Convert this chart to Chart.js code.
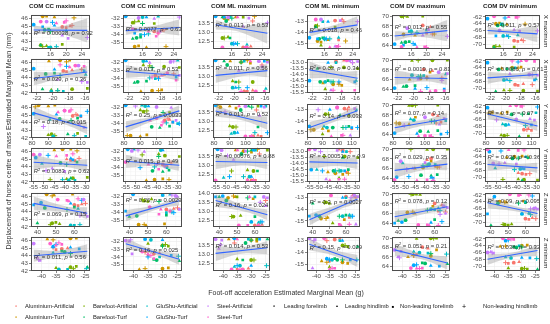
<!DOCTYPE html>
<html>
<head>
<meta charset="utf-8">
<script src="https://cdn.jsdelivr.net/npm/chart.js@4.4.0/dist/chart.umd.min.js"></script>
<style>
  body { margin: 0; background: #fff; width: 550px; height: 324px; overflow: hidden; position: relative;
         font-family: "Liberation Sans", Arial, sans-serif; }
  .abs { position: absolute; white-space: nowrap; color: #1a1a1a; }
  canvas { position: absolute; }
</style>
</head>
<body>
<script>
// categories
const groups = ['Aluminium-Artificial', 'Aluminium-Turf', 'Barefoot-Artificial', 'Barefoot-Turf',
  'GluShu-Artificial', 'GluShu-Turf', 'Steel-Artificial', 'Steel-Turf'];
const limbs = ['Leading forelimb', 'Leading hindlimb', 'Non-leading forelimb', 'Non-leading hindlimb'];
const columnTitles = ['COM CC maximum', 'COM CC minimum', 'COM ML maximum', 'COM ML minimum', 'COM DV maximum', 'COM DV minimum'];
const rowLabels = ['X maximum', 'X minimum', 'Y maximum', 'Y minimum', 'Z maximum', 'Z minimum'];

// one entry per observation (group, limb)
const obsGroup = [0,0,0,0, 1,1,1,1, 2,2,2,2, 3,3,3,3, 4,4,4,4, 5,5,5,5, 6,6,6,6, 7,7,7,7];
const obsLimb  = [0,1,2,3, 0,1,2,3, 0,1,2,3, 0,1,2,3, 0,1,2,3, 0,1,2,3, 0,1,2,3, 0,1,2,3];

// foot-off acceleration (g), one array per row
const accXMax = [19,21,20,21.5, 14,17,15,22, 13.5,15,19,14, 14.5,13.5,15.5,16, 16,20,15.5,17.5, 11.7,17,14,16.5, 15,19,20.5,25.4, 13.5,17.5,19.5,20];
const accXMin = [-18.7,-17.6,-18.3,-16.4, -19.1,-20.5,-17.9,-18.3, -17.6,-20.2,-15.7,-19.4, -20.9,-21.3,-19.8,-19.1, -20.2,-15.9,-18.7,-19.4, -22.4,-19.8,-16.1,-18.3, -16.8,-19.4,-15.7,-16.4, -17.2,-17.9,-16.1,-19.1];
const accYMax = [105,108,110,107, 84,90,94,82, 92,90,108,94, 97,102,108,104, 93,91,113,106, 81,95,110,114, 100,109,112,87, 100,96,103,104];
const accYMin = [-36.9,-38.9,-34.9,-32.9, -40.9,-44.9,-36.9,-33.9, -35.9,-38.9,-28.9,-46.9, -41.9,-36.9,-33.9,-38.9, -37.9,-50.9,-34.9,-40.9, -53.9,-36.9,-35.9,-47.9, -51.9,-45.9,-39.9,-48.9, -54.9,-43.9,-38.9,-35.9];
const accZMax = [60,64,62,66, 45,49,59,48, 48,52,50,47, 44,40,60,56, 58,62,60,63, 42,58,38,64, 65,66,67,63, 51,57,56,62];
const accZMin = [-33,-31,-35,-36, -30,-38,-28,-36, -30,-35,-28,-29, -32,-24.2,-33,-30, -34,-36,-31,-24.5, -36,-30,-27,-35, -42.7,-41.5,-40.5,-41, -37,-35,-33,-34];

// COM displacement (mm), one array per column
const comCCMax = [44.9,45.0,44.8,45.1, 46.3,46.2,46.3,46.1, 42.5,42.4,42.6,42.3, 44.5,42.5,44.6,44.3, 42.2,44.4,42.2,42.3, 45.2,45.1,44.9,45.5, 45.6,43.8,43.4,43.5, 45.6,45.4,45.5,45.7];
const comCCMin = [-33.6,-33.5,-33.8,-33.4, -35.5,-35.6,-35.4,-35.5, -32.5,-32.3,-32.6,-32.4, -34.4,-34.5,-34.3,-32.6, -31.8,-31.7,-34.0,-33.9, -31.7,-31.8,-33.8,-34.0, -31.9,-32.0,-33.6,-31.8, -33.3,-33.6,-34.2,-33.8];
const comMLMax = [12.2,12.25,12.2,13.6, 13.75,13.8,13.7,13.85, 12.7,12.75,13.8,12.7, 13.6,13.8,12.7,13.75, 12.4,12.35,13.8,12.4, 13.85,12.4,13.8,12.4, 13.8,13.3,13.75,13.5, 12.2,13.8,12.2,12.2];
const comMLMin = [-12.9,-12.8,-14.7,-13.0, -14.8,-14.7,-14.9,-14.8, -13.4,-15.2,-13.5,-13.4, -14.6,-13.5,-14.5,-14.6, -14.6,-14.5,-13.0,-14.6, -14.5,-13.0,-14.6,-14.6, -12.8,-15.3,-12.9,-13.0, -12.8,-15.4,-15.3,-15.3];
const comDVMax = [68.1,67.8,66.5,66.3, 66.2,66.0,67.5,66.3, 70.0,69.9,70.0,70.0, 64.6,64.5,64.7,66.7, 66.9,67.1,66.8,66.6, 64.2,64.1,64.0,64.3, 67.5,66.0,67.2,65.8, 63.6,63.5,63.6,63.5];
const comDVMin = [-69.0,-68.8,-69.2,-69.0, -64.0,-64.2,-63.8,-64.1, -70.8,-70.6,-70.9,-70.7, -64.5,-71.0,-64.3,-64.4, -67.6,-67.4,-64.0,-67.8, -62.5,-67.5,-67.6,-62.3, -66.0,-65.8,-66.2,-66.1, -61.8,-62.0,-62.1,-62.0];

// x tick labels per row
const xTicks = [
  [16, 20, 24],
  [-22, -20, -18, -16],
  [80, 90, 100, 110],
  [-55, -50, -45, -40, -35, -30],
  [40, 50, 60],
  [-40, -35, -30, -25]
];
// y tick spacing [row][column]
const ySteps = [
  [1, 1, 0.5, 1, 2, 2],
  [1, 1, 0.5, 0.5, 2, 2],
  [1, 1, 0.5, 1, 2, 2],
  [1, 1, 0.5, 0.5, 2, 2],
  [1, 1, 0.5, 1, 2, 2],
  [1, 1, 0.5, 1, 2, 2]
];

// fitted line: y at smallest x, y at largest x  [row][column]
const fitLines = [
  [[44.5, 44.45], [-33.5, -33.1], [13.4, 12.95], [-14.0, -13.3], [65.9, 67.0], [-66.0, -67.0]],
  [[43.9, 44.75], [-33.1, -33.6], [13.05, 13.3], [-13.6, -14.3], [66.4, 66.2], [-67.0, -66.0]],
  [[45.3, 43.3], [-34.4, -32.4], [13.55, 12.9], [-14.6, -13.1], [65.3, 67.2], [-64.4, -67.9]],
  [[44.6, 44.2], [-33.2, -33.7], [13.2, 13.15], [-13.85, -13.95], [65.6, 66.9], [-66.3, -67.3]],
  [[45.1, 43.8], [-34.4, -32.5], [13.6, 12.8], [-14.9, -13.1], [65.3, 67.4], [-64.3, -67.5]],
  [[44.0, 44.6], [-32.3, -34.3], [13.05, 13.35], [-13.3, -14.7], [67.5, 64.7], [-68.0, -65.4]]
];
// confidence band half width at smallest x, mean x, largest x
const bandWidths = [
  [[0.6, 0.35, 1.6], [0.5, 0.3, 1.0], [0.25, 0.15, 0.55], [0.4, 0.25, 0.8], [1.0, 0.6, 2.2], [1.2, 0.7, 2.5]],
  [[0.9, 0.4, 0.8], [0.8, 0.35, 0.7], [0.4, 0.17, 0.35], [0.7, 0.3, 0.6], [1.5, 0.7, 1.3], [1.8, 0.8, 1.5]],
  [[0.8, 0.35, 0.8], [0.7, 0.3, 0.7], [0.3, 0.17, 0.35], [0.5, 0.25, 0.5], [1.2, 0.6, 1.3], [1.5, 0.7, 1.5]],
  [[1.0, 0.4, 0.8], [0.8, 0.35, 0.7], [0.4, 0.17, 0.35], [0.6, 0.3, 0.5], [1.6, 0.7, 1.3], [1.8, 0.8, 1.5]],
  [[0.9, 0.4, 0.8], [0.7, 0.3, 0.6], [0.35, 0.17, 0.3], [0.5, 0.25, 0.4], [1.2, 0.6, 1.0], [1.6, 0.7, 1.3]],
  [[0.8, 0.4, 0.9], [0.7, 0.3, 0.7], [0.4, 0.17, 0.35], [0.5, 0.25, 0.5], [1.3, 0.6, 1.4], [1.6, 0.7, 1.6]]
];
const statR2 = [
  ['0.00038', '0.0077', '0.013', '0.018', '0.012', '0.011'],
  ['0.029', '0.013', '0.011', '0.03', '0.0019', '0.0086'],
  ['0.18', '0.25', '0.013', '0.14', '0.07', '0.1'],
  ['0.0083', '0.015', '0.00076', '0.00051', '0.029', '0.028'],
  ['0.069', '0.26', '0.16', '0.3', '0.078', '0.09'],
  ['0.011', '0.16', '0.014', '0.15', '0.051', '0.038']
];
const statP = [
  ['0.92', '0.63', '0.53', '0.46', '0.55', '0.57'],
  ['0.36', '0.53', '0.56', '0.34', '0.81', '0.61'],
  ['0.015', '0.0033', '0.52', '0.033', '0.14', '0.07'],
  ['0.62', '0.49', '0.88', '0.9', '0.35', '0.36'],
  ['0.15', '0.0029', '0.024', '0.0027', '0.12', '0.095'],
  ['0.56', '0.025', '0.53', '0.029', '0.21', '0.32']
];
// y value where each R²/p label sits
const labelY = [
  [44.0, -33.3, 13.35, -13.8, 67.6, -64.5],
  [43.8, -32.9, 13.4, -13.5, 68.2, -64.5],
  [44.0, -33.0, 13.35, -13.6, 68.3, -64.2],
  [43.4, -33.2, 13.45, -13.4, 68.4, -64.3],
  [43.6, -32.5, 13.35, -13.4, 68.5, -64.0],
  [43.8, -33.2, 13.4, -13.6, 68.3, -64.5]
];

const rowX = [accXMax, accXMin, accYMax, accYMin, accZMax, accZMin];
const colY = [comCCMax, comCCMin, comMLMax, comMLMin, comDVMax, comDVMin];

// styles
const groupColors = ['#F8766D', '#CD9600', '#7CAE00', '#00BE67', '#00BFC4', '#00A9FF', '#C77CFF', '#FF61CC'];
const limbShapes = ['circle', 'triangle', 'rect', 'cross'];
const FONT = '"Liberation Sans", Arial, sans-serif';
const colLeft = [31, 123, 213, 307, 392, 485];
const colRight = [90, 182, 270, 360, 450, 540];
const rowTop = [12, 56, 101, 145, 190, 234];
const plotH = 37;
const axisW = 26, axisH = 11, padT = 2, padR = 6;

function addText(text, css) {
  const d = document.createElement('div');
  d.className = 'abs';
  d.textContent = text;
  Object.assign(d.style, css);
  document.body.appendChild(d);
  return d;
}

const panelDecor = {
  id: 'panelDecor',
  beforeDatasetsDraw(chart) {
    // minor grid lines halfway between major ticks
    const { ctx, chartArea: a } = chart;
    ctx.save();
    ctx.strokeStyle = '#f4f4f4';
    ctx.lineWidth = 0.5;
    ['x', 'y'].forEach((id) => {
      const s = chart.scales[id];
      if (s.ticks.length < 2) return;
      const step = s.ticks[1].value - s.ticks[0].value;
      for (let v = s.ticks[0].value - step / 2; v <= s.max; v += step) {
        if (v < s.min) continue;
        const p = s.getPixelForValue(v);
        ctx.beginPath();
        if (id === 'x') { ctx.moveTo(p, a.top); ctx.lineTo(p, a.bottom); }
        else { ctx.moveTo(a.left, p); ctx.lineTo(a.right, p); }
        ctx.stroke();
      }
    });
    ctx.restore();
  },
  afterDatasetsDraw(chart, args, opts) {
    const { ctx, chartArea: a, scales: { x, y } } = chart;
    ctx.save();
    // R² / p label
    let cx = x.getPixelForValue(opts.labelX);
    const cy = y.getPixelForValue(opts.labelY);
    ctx.fillStyle = '#333';
    ctx.textBaseline = 'middle';
    const part = (txt, style, dy) => {
      ctx.font = style;
      ctx.fillText(txt, cx, cy + dy);
      cx += ctx.measureText(txt).width;
    };
    part('R', 'italic 5.9px ' + FONT, 0);
    part('2', '4px ' + FONT, -1.9);
    part(' = ' + opts.r2 + ', ', '5.9px ' + FONT, 0);
    part('p', 'italic 5.9px ' + FONT, 0);
    part(' = ' + opts.p, '5.9px ' + FONT, 0);
    // panel border
    ctx.strokeStyle = '#4d4d4d';
    ctx.lineWidth = 1;
    ctx.strokeRect(Math.round(a.left) + 0.5, Math.round(a.top) + 0.5,
      Math.round(a.right - a.left) - 1, Math.round(a.bottom - a.top) - 1);
    ctx.restore();
  }
};

function fmt(decimals) {
  return (v) => (decimals ? v.toFixed(1) : String(Math.round(v)));
}

function buildPanel(r, c) {
  const xs = rowX[r];
  const ys = colY[c];
  const xmin = Math.min(...xs);
  const xmax = Math.max(...xs);
  const xmean = xs.reduce((s, v) => s + v, 0) / xs.length;
  const [y0, y1] = fitLines[r][c];
  const yAt = (x) => y0 + (y1 - y0) * (x - xmin) / (xmax - xmin);
  const bx = [xmin, xmean, xmax];
  const bh = bandWidths[r][c];
  const upper = bx.map((x, i) => ({ x, y: yAt(x) + bh[i] }));
  const lower = bx.map((x, i) => ({ x, y: yAt(x) - bh[i] }));
  const allY = ys.concat(upper.map((p) => p.y), lower.map((p) => p.y));
  const ymin = Math.min(...allY);
  const ymax = Math.max(...allY);
  const xr = xmax - xmin;
  const yr = ymax - ymin;

  const plotW = colRight[c] - colLeft[c];
  const canvas = document.createElement('canvas');
  canvas.width = plotW + axisW + padR;
  canvas.height = plotH + padT + axisH;
  canvas.style.left = (colLeft[c] - axisW) + 'px';
  canvas.style.top = (rowTop[r] - padT) + 'px';
  document.body.appendChild(canvas);

  const tickFont = { family: FONT, size: 6.2 };
  const gridOpts = { color: '#ebebeb', lineWidth: 0.6, tickLength: 2, tickColor: '#333', tickWidth: 0.6 };

  new Chart(canvas, {
    data: {
      datasets: [
        { type: 'line', data: [{ x: xmin, y: y0 }, { x: xmax, y: y1 }], borderColor: '#3366FF',
          borderWidth: 1.1, pointRadius: 0, order: 1 },
        { type: 'line', data: upper, borderWidth: 0, pointRadius: 0, tension: 0.4,
          backgroundColor: 'rgba(153,153,153,0.4)', fill: '+1', order: 2 },
        { type: 'line', data: lower, borderWidth: 0, pointRadius: 0, tension: 0.4, fill: false, order: 2 },
        { type: 'scatter', data: xs.map((x, i) => ({ x, y: ys[i] })),
          pointStyle: obsLimb.map((l) => limbShapes[l]),
          backgroundColor: obsGroup.map((g) => groupColors[g]),
          borderColor: obsGroup.map((g) => groupColors[g]),
          borderWidth: obsLimb.map((l) => (l === 3 ? 1 : 0)),
          pointRadius: obsLimb.map((l) => (l === 3 ? 2.4 : l === 1 ? 2.2 : 1.9)),
          order: 3 }
      ]
    },
    options: {
      responsive: false,
      animation: false,
      devicePixelRatio: 1,
      layout: { padding: { top: padT, right: padR, left: 0, bottom: 0 }, autoPadding: false },
      plugins: {
        legend: { display: false },
        tooltip: { enabled: false },
        panelDecor: { labelX: xmin, labelY: labelY[r][c], r2: statR2[r][c], p: statP[r][c] }
      },
      scales: {
        x: {
          type: 'linear', min: xmin - 0.05 * xr, max: xmax + 0.05 * xr,
          afterBuildTicks: (s) => { s.ticks = xTicks[r].map((v) => ({ value: v })); },
          ticks: { autoSkip: false, maxRotation: 0, minRotation: 0,
            font: tickFont, color: '#4d4d4d', padding: 0, callback: fmt(false) },
          grid: gridOpts, border: { display: false },
          afterFit: (s) => { s.height = axisH; }
        },
        y: {
          type: 'linear', min: ymin - 0.05 * yr, max: ymax + 0.05 * yr,
          ticks: { stepSize: ySteps[r][c], includeBounds: false, autoSkip: false,
            font: tickFont, color: '#4d4d4d', padding: 1, callback: fmt(ySteps[r][c] < 1) },
          grid: gridOpts, border: { display: false },
          afterFit: (s) => { s.width = axisW; }
        }
      }
    },
    plugins: [panelDecor]
  });
}

for (let r = 0; r < 6; r++) {
  for (let c = 0; c < 6; c++) buildPanel(r, c);
}

// column titles
columnTitles.forEach((t, c) => {
  addText(t, { left: (colLeft[c] - 2) + 'px', top: '2px', font: 'bold 6.2px ' + FONT, lineHeight: '8px' });
});
// row strips
rowLabels.forEach((t, r) => {
  addText(t, { left: '546px', top: (rowTop[r] + plotH / 2) + 'px', font: '6.2px ' + FONT,
    transform: 'translate(-50%, -50%) rotate(90deg)' });
});
// axis titles
addText('Displacement of horse centre of mass Estimated Marginal Mean (mm)',
  { left: '8px', top: '141px', font: '7px ' + FONT, color: '#333', transform: 'translate(-50%, -50%) rotate(-90deg)' });
addText('Foot-off acceleration Estimated Marginal Mean (g)',
  { left: '286px', top: '292px', font: '7px ' + FONT, color: '#333', transform: 'translate(-50%, -50%)' });

// legends
const groupKeyX = [16, 84, 147, 208];
groups.forEach((g, i) => {
  const col = Math.floor(i / 2);
  const y = i % 2 === 0 ? 306 : 317;
  addText('\u25CF', { left: groupKeyX[col] + 'px', top: y + 'px', font: '3.5px ' + FONT,
    color: groupColors[i], transform: 'translate(-50%, -50%)' });
  addText(g, { left: (groupKeyX[col] + 9) + 'px', top: y + 'px', font: '5.8px ' + FONT,
    transform: 'translateY(-50%)' });
});
const limbKeyX = [274, 337, 393, 464];
const limbKeyTextX = [284, 345, 400, 483];
const limbGlyphs = ['\u25CF', '\u25B2', '\u25A0', '+'];
const limbGlyphSize = [3.5, 3.5, 4, 7];
limbs.forEach((l, i) => {
  addText(limbGlyphs[i], { left: limbKeyX[i] + 'px', top: '306px', font: limbGlyphSize[i] + 'px ' + FONT,
    color: '#000', transform: 'translate(-50%, -50%)' });
  addText(l, { left: limbKeyTextX[i] + 'px', top: '306px', font: '5.8px ' + FONT, transform: 'translateY(-50%)' });
});
</script>
</body>
</html>
